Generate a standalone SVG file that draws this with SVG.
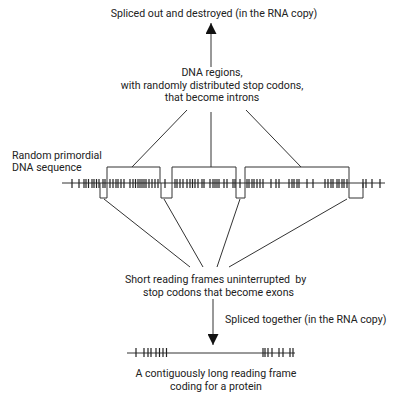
<svg xmlns="http://www.w3.org/2000/svg" width="400" height="398" viewBox="0 0 400 398">
<style>
text{font-family:Roboto,"Liberation Sans",Arial,sans-serif;font-size:10.6px;fill:#222;white-space:pre}
.c{text-anchor:middle}
.ln{stroke:#333;stroke-width:1;fill:none}
.tk{stroke:#222;stroke-width:1.2}
</style>
<defs>
<marker id="ah" markerWidth="12" markerHeight="11" refX="11" refY="5.5" orient="auto" markerUnits="userSpaceOnUse">
<path d="M0,0 L11,5.5 L0,11 Z" fill="#111"/>
</marker>
</defs>
<rect width="400" height="398" fill="#fff"/>
<g id="label-top"><text class="c" x="214" y="17">Spliced out and destroyed (in the RNA copy)</text></g>
<g id="label-introns">
<text class="c" x="212" y="76">DNA regions,</text>
<text class="c" x="212" y="88.5">with randomly distributed stop codons,</text>
<text class="c" x="212" y="101">that become introns</text>
</g>
<g id="label-dna"><text x="12" y="158.5">Random primordial</text><text x="12" y="171">DNA sequence</text></g>
<g id="dna">
<line class="ln" x1="62" y1="183" x2="385" y2="183"/>
<g class="tk">
<path d="M72,179V188M79,179V188M84,179V188M86,179V188M88.5,179V188M92,179V188M94,179V188M96.5,179V188M99,179V188M103,179V188M105,179V188M110,179V188M113,179V188M116,179V188M118,179V188M121,179V188M124,179V188M130,179V188M133,179V188M135.5,179V188M138,179V188M140,179V188M142,179V188M144,179V188M146,179V188M149,179V188M152,179V188M155,179V188M158,179V188M165,179V188M175,179V188M177,179V188M180,179V188M183,179V188M187,179V188M190,179V188M192.5,179V188M195,179V188M198,179V188M202,179V188M204,179V188M210,179V188M213,179V188M215,179V188M217,179V188M219,179V188M224,179V188M227,179V188M233,179V188M235,179V188M240,179V188M247,179V188M249,179V188M252,179V188M254,179V188M257,179V188M260,179V188M263,179V188M271,179V188M276,179V188M279,179V188M289,179V188M292,179V188M294,179V188M297,179V188M299,179V188M307,179V188M313,179V188M325,179V188M328,179V188M331,179V188M333,179V188M337,179V188M339,179V188M342,179V188M344,179V188M347,179V188M363,179V188M366,179V188M372,179V188M380,179V188"/>
</g>
</g>
<g id="brackets">
<path class="ln" d="M107,183V167H160V183M172,183V167H236V183M245,183V167H349V183"/>
<path class="ln" d="M100,183V198H107V183M161,183V198H172V183M236,183V198H245V183M349,183V198H363V183"/>
</g>
<g id="label-exons">
<text x="125" y="282.5">Short reading frames uninterrupted  by</text>
<text x="143" y="295.5">stop codons that become exons</text>
</g>
<g id="label-spliced"><text x="225" y="323">Spliced together (in the RNA copy)</text></g>
<g id="protein">
<line class="ln" x1="127" y1="353" x2="295" y2="353"/>
<path class="tk" d="M136,348V357M144,348V357M148,348V357M151,348V357M156,348V357M159.5,348V357M163,348V357M166.5,348V357M263,348V357M265,348V357M268,348V357M272,348V357M279,348V357M283,348V357M290,348V357M293,348V357"/>
</g>
<g id="label-bottom">
<text class="c" x="216" y="376.5">A contiguously long reading frame</text>
<text class="c" x="216" y="389.5">coding for a protein</text>
</g>
<g id="connectors">
<line class="ln" x1="211" y1="67" x2="211" y2="23" stroke-width="2" marker-end="url(#ah)"/>
<line class="ln" x1="213" y1="299" x2="213" y2="345" stroke-width="2" marker-end="url(#ah)"/>
<line class="ln" x1="187" y1="110" x2="132" y2="167"/>
<line class="ln" x1="211" y1="112" x2="211" y2="167"/>
<line class="ln" x1="246" y1="110" x2="301" y2="167"/>
<line class="ln" x1="104" y1="199" x2="190" y2="267"/>
<line class="ln" x1="164" y1="199" x2="203" y2="267"/>
<line class="ln" x1="240" y1="199" x2="217" y2="267"/>
<line class="ln" x1="347" y1="199" x2="229" y2="267"/>
</g>
</svg>
